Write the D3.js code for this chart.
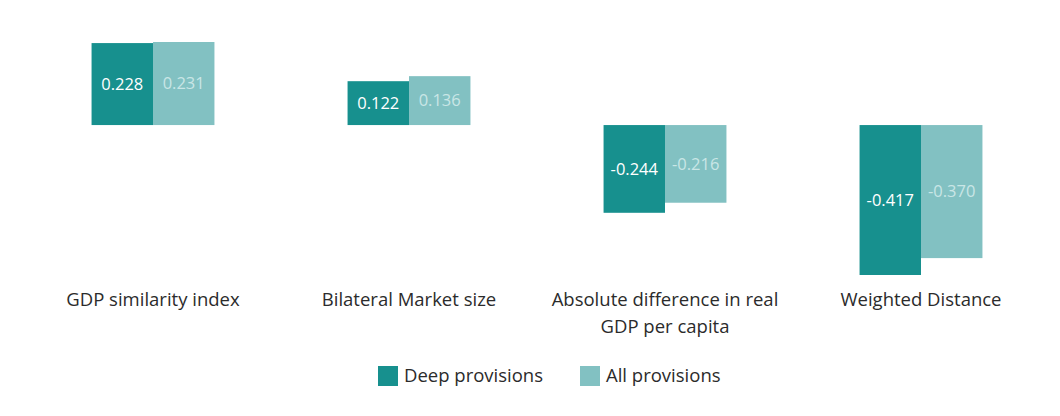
<!DOCTYPE html>
<html>
<head>
<meta charset="utf-8">
<script src="https://cdn.jsdelivr.net/npm/d3@7"></script>
<style>
  body { margin: 0; background: #fff; font-family: "Open Sans", sans-serif; }
</style>
</head>
<body>
<div id="chart"></div>
<script>
var categories = ["GDP similarity index", "Bilateral Market size", "Absolute difference in real GDP per capita", "Weighted Distance"];
var categoryLines = [["GDP similarity index"], ["Bilateral Market size"], ["Absolute difference in real", "GDP per capita"], ["Weighted Distance"]];
var series = ["Deep provisions", "All provisions"];
var deepValues = [0.228, 0.122, -0.244, -0.417];
var allValues = [0.231, 0.136, -0.216, -0.370];

var colors = { "Deep provisions": "#17908e", "All provisions": "#82c1c2" };
var textColors = { "Deep provisions": "#ffffff", "All provisions": "#c9e6e6" };

var width = 1060, height = 416;

var svg = d3.select("#chart")
    .append("svg")
    .attr("width", width)
    .attr("height", height);

var x = d3.scaleBand()
    .domain(categories)
    .range([25, 1049])
    .paddingInner(0.52)
    .paddingOuter(0.26);

var x1 = d3.scaleBand()
    .domain(series)
    .range([0, x.bandwidth()]);

var y = d3.scaleLinear()
    .domain([-0.417, 0.231])
    .range([275, 42]);

var rows = categories.map(function(c, i) {
    return [
        { cat: c, key: "Deep provisions", value: deepValues[i] },
        { cat: c, key: "All provisions", value: allValues[i] }
    ];
});

var groups = svg.selectAll(".group")
    .data(rows)
    .enter()
    .append("g")
    .attr("class", "group")
    .attr("transform", function(d) { return "translate(" + x(d[0].cat) + ",0)"; });

groups.selectAll("rect")
    .data(function(d) { return d; })
    .enter()
    .append("rect")
    .attr("x", function(d) { return x1(d.key); })
    .attr("width", x1.bandwidth())
    .attr("y", function(d) { return y(Math.max(0, d.value)); })
    .attr("height", function(d) { return Math.abs(y(d.value) - y(0)); })
    .attr("fill", function(d) { return colors[d.key]; });

groups.selectAll("text.val")
    .data(function(d) { return d; })
    .enter()
    .append("text")
    .attr("class", "val")
    .attr("x", function(d) { return x1(d.key) + x1.bandwidth() / 2; })
    .attr("y", function(d) { return (y(d.value) + y(0)) / 2; })
    .attr("dy", "0.35em")
    .attr("text-anchor", "middle")
    .attr("font-size", 16.5)
    .attr("fill", function(d) { return textColors[d.key]; })
    .text(function(d) { return d3.format(".3f")(d.value).replace("−", "-"); });

// category labels below the chart
var labels = svg.selectAll(".cat")
    .data(categories)
    .enter()
    .append("text")
    .attr("class", "cat")
    .attr("x", function(d) { return x(d) + x.bandwidth() / 2; })
    .attr("y", 306)
    .attr("text-anchor", "middle")
    .attr("font-size", 18.5)
    .attr("fill", "#2b2b2b");

labels.selectAll("tspan")
    .data(function(d, i) { return categoryLines[i]; })
    .enter()
    .append("tspan")
    .attr("x", function() { var c = d3.select(this.parentNode).datum(); return x(c) + x.bandwidth() / 2; })
    .attr("dy", function(d, i) { return i === 0 ? 0 : 27; })
    .text(function(d) { return d; });

// legend
var legendX = [378, 580];
var legend = svg.selectAll(".legend")
    .data(series)
    .enter()
    .append("g")
    .attr("class", "legend")
    .attr("transform", function(d, i) { return "translate(" + legendX[i] + ",366)"; });

legend.append("rect")
    .attr("width", 20)
    .attr("height", 20)
    .attr("fill", function(d) { return colors[d]; });

legend.append("text")
    .attr("x", 26)
    .attr("y", 10)
    .attr("dy", "0.35em")
    .attr("font-size", 18.5)
    .attr("fill", "#2b2b2b")
    .text(function(d) { return d; });
</script>
</body>
</html>
